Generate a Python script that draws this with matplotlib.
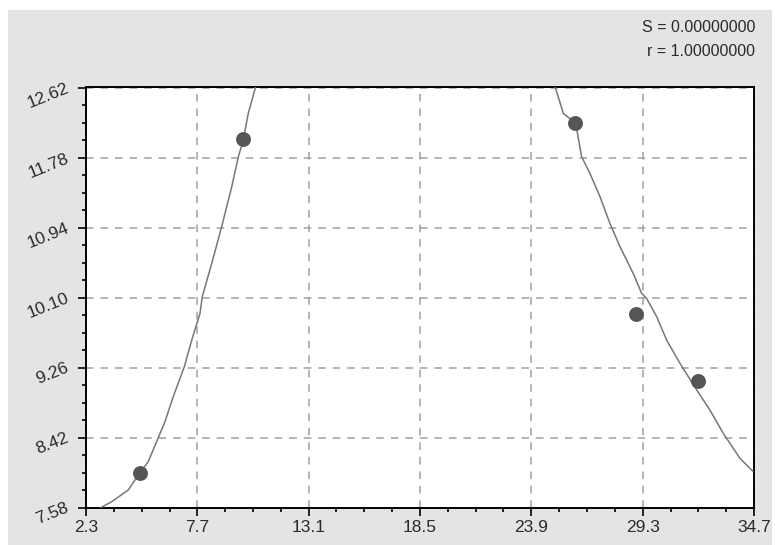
import numpy as np
import matplotlib.pyplot as plt
from matplotlib.patches import Rectangle
from matplotlib.ticker import AutoMinorLocator

plt.rcParams['font.family'] = ['Liberation Sans', 'DejaVu Sans']

# measured points
x_obs = [4.9, 9.9, 26.0, 29.0, 32.0]
y_obs = [8.0, 12.0, 12.2, 9.9, 9.1]

# fitted curve, rising branch and falling branch
fit_x_left = [3.03, 3.55, 4.35, 4.92, 5.32, 5.81, 6.13, 6.53, 7.07, 7.43, 7.83, 7.94,
              8.40, 8.88, 9.37, 9.69, 9.93, 10.17, 10.53]
fit_y_left = [7.58, 7.65, 7.79, 8.00, 8.13, 8.42, 8.61, 8.91, 9.27, 9.59, 9.91, 10.11,
              10.51, 10.95, 11.43, 11.79, 11.99, 12.31, 12.63]
fit_x_right = [25.05, 25.45, 26.05, 26.34, 26.74, 27.23, 27.71, 28.20, 28.84, 29.25,
               29.49, 29.98, 30.46, 31.11, 31.92, 32.56, 33.21, 34.02, 34.66]
fit_y_right = [12.63, 12.31, 12.19, 11.79, 11.59, 11.31, 10.99, 10.71, 10.39, 10.15,
               10.09, 9.87, 9.59, 9.31, 8.99, 8.75, 8.47, 8.17, 8.01]

x_ticks = [2.3, 7.7, 13.1, 18.5, 23.9, 29.3, 34.7]
y_ticks = [7.58, 8.42, 9.26, 10.10, 10.94, 11.78, 12.62]
stats = ["S = 0.00000000", "r = 1.00000000"]

W, H = 775, 545
fig = plt.figure(figsize=(W / 100, H / 100), dpi=100)
fig.patch.set_facecolor("white")
fig.patches.append(Rectangle((8 / W, 0), (772 - 8) / W, (H - 10) / H,
                             transform=fig.transFigure, facecolor="#e4e4e4",
                             edgecolor="none", zorder=-10))

ax = fig.add_axes([86 / W, (H - 507.5) / H, (754 - 86) / W, 420 / H])
ax.set_facecolor("white")

ax.plot(fit_x_left, fit_y_left, color="#777777", lw=1.1, zorder=3)
ax.plot(fit_x_right, fit_y_right, color="#777777", lw=1.1, zorder=3)
ax.scatter(x_obs, y_obs, s=115, color="#555555", zorder=4, linewidths=0)

ax.set_xlim(x_ticks[0], x_ticks[-1])
ax.set_ylim(y_ticks[0], y_ticks[-1])
ax.set_xticks(x_ticks)
ax.set_yticks(y_ticks)
ax.set_xticklabels(["%.1f" % v for v in x_ticks], fontsize=12.5, color="#2a2a2a")
ax.set_yticklabels(["%.2f" % v for v in y_ticks], fontsize=12.5, color="#2a2a2a",
                   rotation=22, rotation_mode="anchor", ha="right", va="center")
ax.xaxis.set_minor_locator(AutoMinorLocator(4))
ax.yaxis.set_minor_locator(AutoMinorLocator(4))
ax.tick_params(which="major", length=6, width=1.2, color="black", direction="out")
ax.tick_params(which="minor", length=3, width=1.2, color="black", direction="out")
ax.tick_params(axis="x", pad=3)
ax.tick_params(axis="y", pad=7)

ax.grid(True, which="major", color="#a0a0a0", linestyle=(0, (5, 4.5)), lw=1.1)
for s in ax.spines.values():
    s.set_linewidth(1.4)
    s.set_color("black")

fig.text(755 / W, 1 - 28 / H, stats[0], ha="right", va="center", fontsize=11.5, color="#2a2a2a")
fig.text(755 / W, 1 - 52 / H, stats[1], ha="right", va="center", fontsize=11.5, color="#2a2a2a")

fig.savefig("out.png", dpi=100)
